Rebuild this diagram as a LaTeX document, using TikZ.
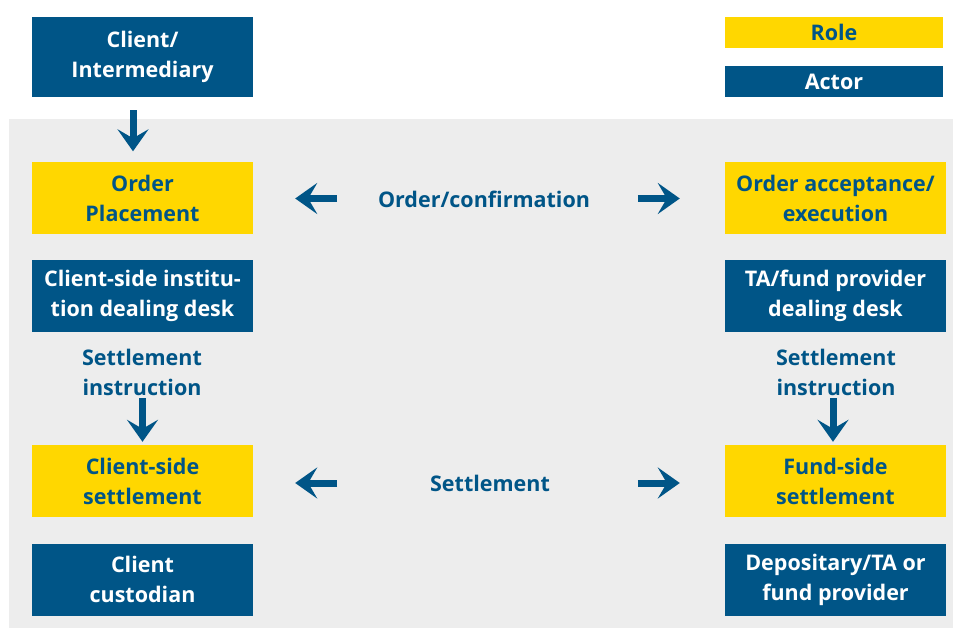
\documentclass[tikz,border=0pt]{standalone}
\usepackage{fontspec}
\setmainfont{Open Sans}
\usepackage{xcolor}
\usetikzlibrary{arrows.meta,positioning,calc}
\definecolor{actorblue}{RGB}{0,85,135}
\definecolor{roleyellow}{RGB}{255,215,0}
\definecolor{panelgray}{RGB}{237,237,237}
\tikzset{>=latex}
\tikzset{
  box/.style={minimum width=221pt,minimum height=72pt,inner sep=0pt,align=center,
    font=\fontsize{21.5}{30}\selectfont\bfseries},
  actor/.style={box,fill=actorblue,text=white},
  role/.style={box,fill=roleyellow,text=actorblue},
  flow/.style={inner sep=0pt,align=center,text=actorblue,
    font=\fontsize{21.5}{30}\selectfont\bfseries},
  fat/.style={draw=actorblue,line width=7pt,-{Stealth[length=22pt,width=31pt,inset=9pt]}}
}

\begin{document}
\begin{tikzpicture}[x=1pt,y=-1pt]
  \useasboundingbox (0,0) rectangle (953,628);
  \fill[panelgray] (9,119) rectangle (953,628);

  % Legend
  \node[role,minimum width=218pt,minimum height=31pt] (rolekey) at (834,32.5) {Role};
  \node[actor,minimum width=218pt,minimum height=31pt] (actorkey) at (834,81.5) {Actor};

  % Boxes
  \node[actor,minimum height=80pt] (client) at (142.5,57) {Client/\\Intermediary};
  \node[role] (place) at (142.5,198.5) {Order\\Placement};
  \node[role] (accept) at (835.5,198.5) {Order acceptance/\\execution};
  \node[actor] (cdesk) at (142.5,296) {Client-side institu-\\tion dealing desk};
  \node[actor] (tdesk) at (835.5,296) {TA/fund provider\\dealing desk};
  \node[role] (csettle) at (142.5,481) {Client-side\\settlement};
  \node[role] (fsettle) at (835.5,481) {Fund-side\\settlement};
  \node[actor] (cust) at (142.5,579.5) {Client\\custodian};
  \node[actor] (dep) at (835.5,579.5) {Depositary/TA or\\fund provider};

  % Labels
  \node[flow] (conf) at (484,199) {Order/confirmation};
  \node[flow] (settle) at (490,483) {Settlement};
  \node[flow] (cinstr) at (142,372) {Settlement\\instruction};
  \node[flow] (finstr) at (836,372) {Settlement\\instruction};

  % Arrow ends
  \coordinate (c1) at ($(place.east)+(84,0)$);
  \coordinate (c2) at ($(place.east)+(42,0)$);
  \coordinate (c3) at ($(accept.west)+(-87,0)$);
  \coordinate (c4) at ($(accept.west)+(-45,0)$);
  \coordinate (s1) at ($(csettle.east)+(84,2)$);
  \coordinate (s2) at ($(csettle.east)+(42,2)$);
  \coordinate (s3) at ($(fsettle.west)+(-87,2)$);
  \coordinate (s4) at ($(fsettle.west)+(-45,2)$);

  % Lines
  \draw[fat] ([xshift=-9.5pt,yshift=-13pt]client.south) -- ([xshift=-9.5pt,yshift=11pt]place.north);
  \draw[fat] (c1) -- (c2);
  \draw[fat] (c3) -- (c4);
  \draw[fat] (s1) -- (s2);
  \draw[fat] (s3) -- (s4);
  \draw[fat] ([yshift=-3pt]cinstr.south-|csettle.north) -- ([yshift=3pt]csettle.north);
  \draw[fat] ([xshift=-2.5pt,yshift=-3pt]finstr.south-|fsettle.north) -- ([xshift=-2.5pt,yshift=3pt]fsettle.north);
\end{tikzpicture}
\end{document}
